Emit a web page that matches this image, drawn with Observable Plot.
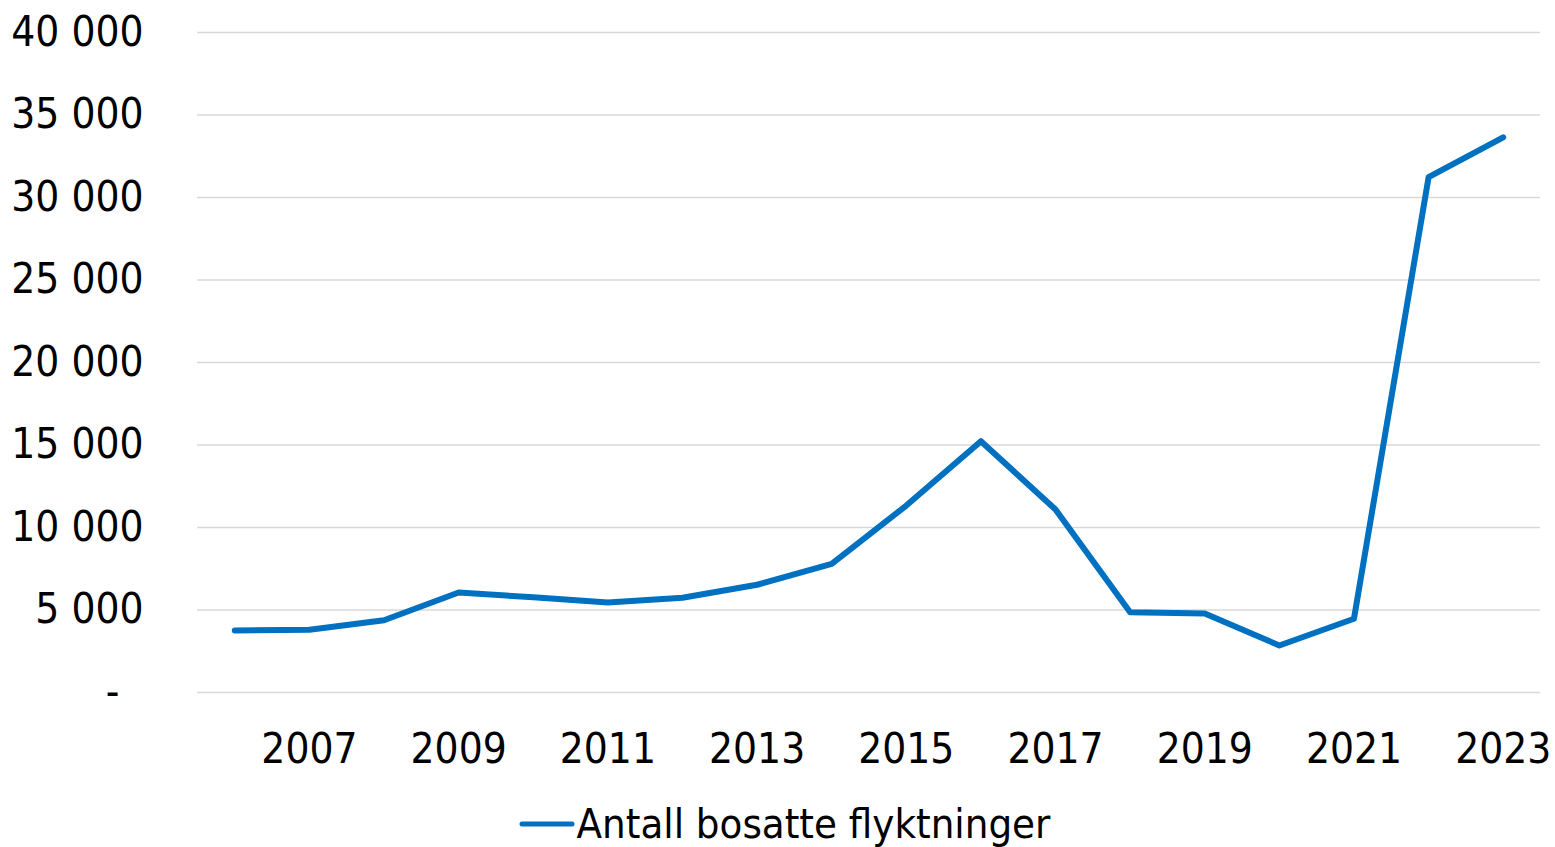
<!DOCTYPE html>
<html>
<head>
<meta charset="utf-8">
<script src="https://cdn.jsdelivr.net/npm/d3@7"></script>
<script src="https://cdn.jsdelivr.net/npm/@observablehq/plot@0.6"></script>
<style>
  html, body { margin: 0; padding: 0; background: #fff; }
  body { width: 1555px; height: 847px; overflow: hidden; font-family: "DejaVu Sans Condensed", "DejaVu Sans", sans-serif; }
  #legend { display: flex; justify-content: center; align-items: center; font-size: 41.5px; color: #000; margin-top: 23px; padding-left: 14px; line-height: 1; }
  #legend svg { margin-right: 2px; }
</style>
</head>
<body>
<div id="chart"></div>
<div id="legend"></div>
<script>
const years = [2006, 2007, 2008, 2009, 2010, 2011, 2012, 2013, 2014, 2015, 2016, 2017, 2018, 2019, 2020, 2021, 2022, 2023];
const settled = [3760, 3800, 4380, 6060, 5770, 5450, 5740, 6530, 7800, 11330, 15230, 11090, 4870, 4790, 2850, 4470, 31230, 33650];
const yTicks = [0, 5000, 10000, 15000, 20000, 25000, 30000, 35000, 40000];
const xTicks = [2007, 2009, 2011, 2013, 2015, 2017, 2019, 2021, 2023];
const seriesName = "Antall bosatte flyktninger";
const lineColor = "#0070C0";

const data = years.map((y, i) => ({year: y, value: settled[i]}));

const fmt = v => v === 0 ? "-\u00a0\u00a0" : d3.format(",")(v).replace(/,/g, " ");

const chart = Plot.plot({
  width: 1555,
  height: 780,
  marginLeft: 197,
  marginRight: 15,
  marginTop: 32,
  marginBottom: 88,
  style: {fontFamily: '"DejaVu Sans Condensed", "DejaVu Sans", sans-serif', fontSize: "42px", color: "#000", background: "#fff"},
  x: {domain: [2005.5, 2023.5], ticks: xTicks, tickFormat: d => String(d), tickSize: 0, tickPadding: 41, label: null},
  y: {domain: [0, 40000], ticks: yTicks, tickFormat: fmt, tickSize: 0, tickPadding: 54, label: null},
  marks: [
    Plot.ruleY(yTicks, {stroke: "#d9d9d9", strokeWidth: 1.5}),
    Plot.line(data, {x: "year", y: "value", stroke: lineColor, strokeWidth: 6, strokeLinejoin: "round", strokeLinecap: "round"}),
    Plot.axisX({ticks: xTicks, tickFormat: d => String(d), tickSize: 0, tickPadding: 41, fontSize: 42}),
    Plot.axisY({ticks: yTicks, tickFormat: fmt, tickSize: 0, tickPadding: 54, fontSize: 42})
  ]
});
document.getElementById("chart").appendChild(chart);

const legend = document.getElementById("legend");
legend.innerHTML = `<svg width="56" height="10"><line x1="3" y1="5" x2="53" y2="5" stroke="${lineColor}" stroke-width="5" stroke-linecap="round"/></svg><span>${seriesName}</span>`;
</script>
</body>
</html>
